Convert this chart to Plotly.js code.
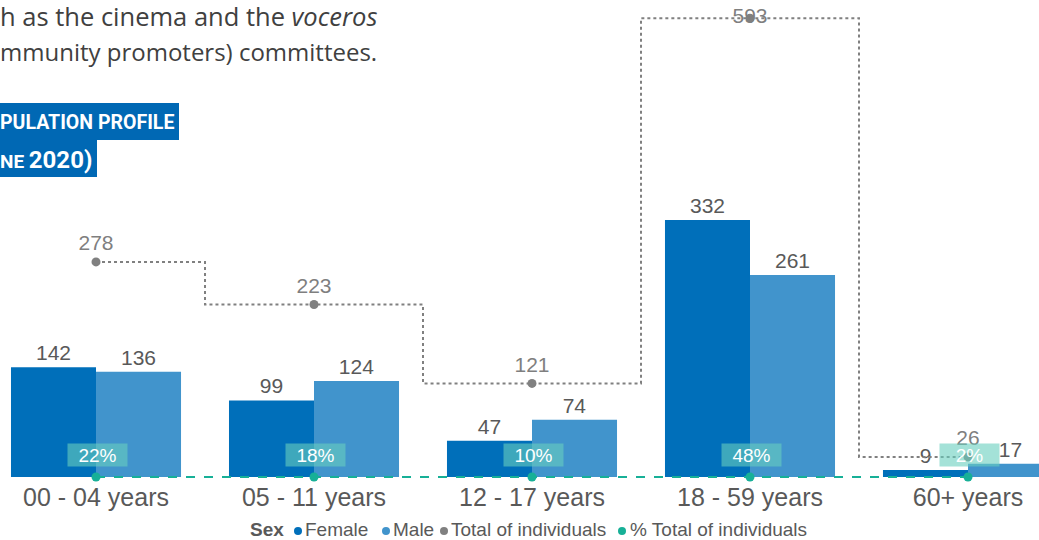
<!DOCTYPE html>
<html>
<head>
<meta charset="utf-8">
<script src="https://cdn.plot.ly/plotly-3.0.1.min.js"></script>
<style>
  html, body { margin: 0; padding: 0; background: #fff; }
  #chart { width: 1039px; height: 540px; }
</style>
</head>
<body>
<div id="chart"></div>
<script>
// ---- Data ----
const categories = ["00 - 04 years", "05 - 11 years", "12 - 17 years", "18 - 59 years", "60+ years"];
const female = [142, 99, 47, 332, 9];
const male = [136, 124, 74, 261, 17];
const totalIndividuals = [278, 223, 121, 593, 26];
const pctTotal = ["22%", "18%", "10%", "48%", "2%"];
const legendTitle = "Sex";
const legendNames = ["Female", "Male", "Total of individuals", "% Total of individuals"];

// ---- Styles / geometry ----
const W = 1039, H = 540, PLOT_H = 482;
const px = v => v / W;                 // pixel x -> paper x
const py = v => (PLOT_H - v) / PLOT_H; // pixel y -> paper y

const cFemale = "#006fba";
const cMale = "#4194cc";
const cTotal = "#808080";
const cPct = "#17b097";
const labelGray = "#595959";
const FONT = "Liberation Sans, Arial, sans-serif";

const totalTextPos = totalIndividuals.map(v => v > 500 ? "middle center" : "top center");
const baseline = categories.map(() => 0);

const traces = [
  {
    type: "bar", name: legendNames[0], x: categories, y: female,
    marker: {color: cFemale}, text: female.map(String), textposition: "outside",
    textfont: {family: FONT, size: 21, color: labelGray}, cliponaxis: false, hoverinfo: "skip"
  },
  {
    type: "bar", name: legendNames[1], x: categories, y: male,
    marker: {color: cMale}, text: male.map(String), textposition: "outside",
    textfont: {family: FONT, size: 21, color: labelGray}, cliponaxis: false, hoverinfo: "skip"
  },
  {
    type: "scatter", name: legendNames[2], x: categories, y: totalIndividuals,
    mode: "lines+markers+text", line: {shape: "hvh", dash: "dot", color: cTotal, width: 2},
    marker: {color: cTotal, size: 9}, text: totalIndividuals.map(String),
    textposition: totalTextPos, textfont: {family: FONT, size: 21, color: "#7f7f7f"},
    cliponaxis: false, hoverinfo: "skip"
  },
  {
    type: "scatter", name: legendNames[3], x: categories, y: baseline,
    mode: "lines+markers", line: {dash: "dash", color: cPct, width: 2},
    marker: {color: cPct, size: 9}, cliponaxis: false, hoverinfo: "skip"
  }
];

const annotations = [];
categories.forEach((cat, i) => {
  annotations.push({
    x: cat, y: 0, xref: "x", yref: "y", text: pctTotal[i], showarrow: false,
    yanchor: "middle", xanchor: "center", yshift: 22, xshift: 1, width: 59, height: 22,
    bgcolor: "rgba(103,207,190,0.6)", borderpad: 0,
    font: {family: FONT, size: 19, color: "#ffffff"}
  });
});

const shapes = [
  {type: "rect", xref: "paper", yref: "paper", x0: 0, x1: px(179), y0: py(140), y1: py(103),
   fillcolor: "#0068b4", line: {width: 0}, layer: "below"},
  {type: "rect", xref: "paper", yref: "paper", x0: 0, x1: px(97), y0: py(177), y1: py(140),
   fillcolor: "#0068b4", line: {width: 0}, layer: "below"}
];

// ---- Legend (dot + label, laid out as in the reference) ----
const legendColors = [cFemale, cMale, cTotal, cPct];
const legendDotX = [298, 386, 444, 622];
const legendTextX = [304, 392, 450, 629];
const LEG_Y = 529.5;
annotations.push({
  xref: "paper", yref: "paper", x: px(250), y: py(LEG_Y), xanchor: "left", yanchor: "middle",
  showarrow: false, xshift: -1, borderpad: 0, text: "<b>" + legendTitle + "</b>",
  font: {family: FONT, size: 19, color: labelGray}
});
legendNames.forEach((name, i) => {
  shapes.push({
    type: "circle", xref: "paper", yref: "paper",
    x0: px(legendDotX[i] - 4), x1: px(legendDotX[i] + 4),
    y0: py(LEG_Y + 5.5), y1: py(LEG_Y - 2.5),
    fillcolor: legendColors[i], line: {width: 0}
  });
  annotations.push({
    xref: "paper", yref: "paper", x: px(legendTextX[i]), y: py(LEG_Y), xanchor: "left", yanchor: "middle",
    showarrow: false, borderpad: 0, text: name, font: {family: FONT, size: 19, color: labelGray}
  });
});

// ---- Surrounding page text ----
annotations.push(
  {xref: "paper", yref: "paper", x: 0, y: py(16), xanchor: "left", yanchor: "middle", showarrow: false, xshift: -2,
   text: "h as the cinema and the <i>voceros</i>", font: {family: "Open Sans, sans-serif", size: 25.5, color: "#404040"}},
  {xref: "paper", yref: "paper", x: 0, y: py(52), xanchor: "left", yanchor: "middle", showarrow: false, xshift: -2,
   text: "mmunity promoters) committees.", font: {family: "Open Sans, sans-serif", size: 24, color: "#404040"}},
  {xref: "paper", yref: "paper", x: 0, y: py(122), xanchor: "left", yanchor: "middle", showarrow: false, xshift: -2,
   text: "<b>PULATION PROFILE</b>", font: {family: "Roboto, sans-serif", size: 19.5, color: "#ffffff"}},
  {xref: "paper", yref: "paper", x: 0, y: py(160), xanchor: "left", yanchor: "middle", showarrow: false, xshift: -2,
   text: "<b>NE <span style=\"font-size:24px\">2020)</span></b>", font: {family: "Roboto, sans-serif", size: 19, color: "#ffffff"}}
);

const layout = {
  width: W, height: H,
  margin: {l: 0, r: 0, t: 0, b: H - PLOT_H, autoexpand: false},
  paper_bgcolor: "#ffffff", plot_bgcolor: "rgba(0,0,0,0)",
  barmode: "group", bargap: 0.22, bargroupgap: 0,
  xaxis: {
    type: "category", range: [-0.4404, 4.3257], showgrid: false, zeroline: false, showline: false,
    ticks: "", tickfont: {family: FONT, size: 25, color: labelGray}, fixedrange: true, automargin: false,
    ticklabelstandoff: -2
  },
  yaxis: {
    range: [-6.46, 616.5], showgrid: false, zeroline: false, showline: false, showticklabels: false,
    fixedrange: true, automargin: false
  },
  showlegend: false,
  annotations: annotations,
  shapes: shapes
};

Plotly.newPlot("chart", traces, layout, {displayModeBar: false, staticPlot: true});
</script>
</body>
</html>
